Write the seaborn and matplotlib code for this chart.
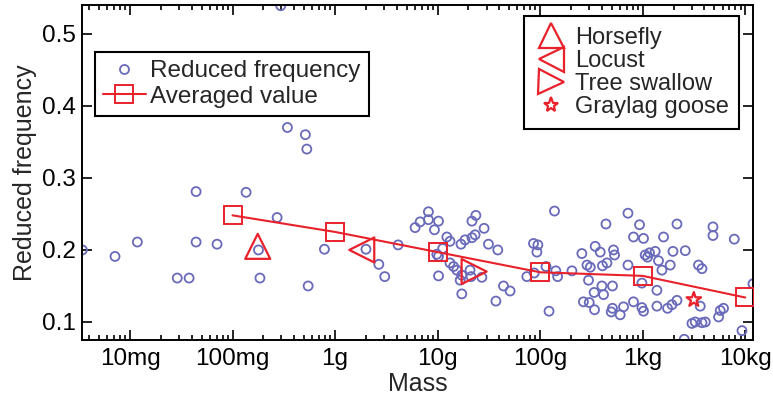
import numpy as np
import pandas as pd
import matplotlib
matplotlib.use("Agg")
import matplotlib.pyplot as plt
import seaborn as sns
from matplotlib.ticker import LogLocator, FixedLocator, FixedFormatter, NullFormatter, NullLocator
from matplotlib.lines import Line2D

# ---- data (mass in grams, reduced frequency) ----
mass_g = [0.00343, 0.00714, 0.0118, 0.0289, 0.0377, 0.0441, 0.0441, 0.0706, 0.1355, 0.179,
          0.185, 0.272, 0.295, 0.343, 0.513, 0.530, 0.546, 0.787, 2.00, 2.67,
          3.05, 4.12, 6.03, 6.75, 8.13, 8.13, 10.2, 9.31, 12.3, 13.2,
          11.2, 9.82, 10.2, 10.2, 13.2, 14.3, 15.4, 17.2, 16.6, 17.2,
          16.9, 18.5, 21.6, 23.2, 21.6, 23.6, 28.4, 31.3, 38.6, 20.7,
          21.2, 27.0, 43.9, 50.9, 37.0, 74.1, 86.1, 95.0, 92.9, 87.4,
          114, 142, 148, 138, 122, 204, 255, 286, 308, 296,
          344, 385, 405, 448, 519, 531, 438, 400, 336, 415,
          507, 264, 301, 339, 507, 493, 603, 650, 718, 813,
          718, 813, 931, 1018, 2158, 1596, 4842, 4842, 7816, 1057,
          1165, 1324, 1972, 2600, 1114, 1426, 1854, 1539, 3500, 3784,
          982, 1376, 982, 1018, 1376, 1746, 1927, 2158, 3639, 3020,
          3251, 3784, 4074, 2541, 5495, 5702, 6138, 9290, 11890]
freq = [0.200, 0.191, 0.211, 0.161, 0.161, 0.281, 0.211, 0.208, 0.280, 0.200,
        0.161, 0.245, 0.539, 0.370, 0.360, 0.340, 0.150, 0.201, 0.201, 0.180,
        0.163, 0.207, 0.231, 0.239, 0.253, 0.242, 0.240, 0.228, 0.218, 0.212,
        0.202, 0.194, 0.191, 0.164, 0.182, 0.177, 0.172, 0.165, 0.158, 0.139,
        0.208, 0.214, 0.217, 0.221, 0.240, 0.248, 0.230, 0.208, 0.200, 0.172,
        0.163, 0.162, 0.150, 0.143, 0.129, 0.163, 0.209, 0.207, 0.197, 0.168,
        0.177, 0.171, 0.163, 0.254, 0.115, 0.171, 0.195, 0.179, 0.176, 0.158,
        0.205, 0.197, 0.178, 0.182, 0.200, 0.193, 0.236, 0.150, 0.141, 0.138,
        0.150, 0.128, 0.127, 0.117, 0.119, 0.114, 0.110, 0.121, 0.251, 0.218,
        0.179, 0.128, 0.235, 0.216, 0.236, 0.218, 0.232, 0.220, 0.215, 0.193,
        0.196, 0.198, 0.198, 0.199, 0.190, 0.185, 0.179, 0.172, 0.179, 0.174,
        0.154, 0.144, 0.120, 0.115, 0.122, 0.119, 0.124, 0.130, 0.122, 0.098,
        0.100, 0.099, 0.100, 0.076, 0.107, 0.116, 0.119, 0.088, 0.153]

avg_mass_g = [0.1, 1, 10, 100, 1000, 10000]
avg_freq = [0.248, 0.225, 0.197, 0.169, 0.164, 0.134]

species = ["Horsefly", "Locust", "Tree swallow", "Graylag goose"]
species_mass_g = [0.176, 1.82, 22.7, 3150]
species_freq = [0.205, 0.200, 0.170, 0.131]
species_markers = ["^", "<", ">", "*"]

xtick_values = [0.01, 0.1, 1, 10, 100, 1000, 10000]
xtick_labels = ["10mg", "100mg", "1g", "10g", "100g", "1kg", "10kg"]
ytick_values = [0.1, 0.2, 0.3, 0.4, 0.5]
ytick_labels = ["0.1", "0.2", "0.3", "0.4", "0.5"]

BLUE = "#6a6aba"
RED = "#e8212b"

sns.set_theme(style="ticks")
plt.rcParams['font.family'] = ['Liberation Sans', 'DejaVu Sans']

W, H = 773, 397
fig = plt.figure(figsize=(W / 100, H / 100), dpi=100)
ax = fig.add_axes([81.7 / W, 57 / H, (753 - 81.7) / W, (340 - 5) / H])
ax.set_xscale("log")

df = pd.DataFrame({"mass": mass_g, "freq": freq})
sns.scatterplot(data=df, x="mass", y="freq", ax=ax, marker="o", s=42,
                facecolors="none", edgecolor=BLUE, linewidth=1.3, zorder=2,
                legend=False, clip_on=True)

avg_df = pd.DataFrame({"mass": avg_mass_g, "freq": avg_freq})
sns.lineplot(data=avg_df, x="mass", y="freq", ax=ax, color=RED, linewidth=1.5,
             marker="s", markersize=13, markerfacecolor="none",
             markeredgecolor=RED, markeredgewidth=1.4, zorder=3, legend=False)

spec_sizes = {"^": 18, "<": 18, ">": 18, "*": 11}
for name, m, f, mk in zip(species, species_mass_g, species_freq, species_markers):
    sns.scatterplot(x=[m], y=[f], ax=ax, marker=mk, s=spec_sizes[mk] ** 2,
                    facecolors="none", edgecolor=RED, linewidth=1.6, zorder=4,
                    legend=False)

ax.set_xlim(0.00338, 11900)
ax.set_ylim(0.075, 0.540)

ax.xaxis.set_major_locator(FixedLocator(xtick_values))
ax.xaxis.set_major_formatter(FixedFormatter(xtick_labels))
ax.xaxis.set_minor_locator(LogLocator(base=10, subs=np.arange(2, 10), numticks=20))
ax.xaxis.set_minor_formatter(NullFormatter())
ax.yaxis.set_major_locator(FixedLocator(ytick_values))
ax.yaxis.set_major_formatter(FixedFormatter(ytick_labels))
ax.yaxis.set_minor_locator(NullLocator())

ax.tick_params(which="both", direction="in", top=True, right=True, colors="black",
               width=1.2, labelsize=17.5)
ax.tick_params(which="major", length=7, pad=4)
ax.tick_params(which="minor", length=3.5)
ax.tick_params(axis="x", which="major", pad=6)
for sp in ax.spines.values():
    sp.set_linewidth(1.4)
    sp.set_color("black")

ax.set_xlabel("Mass", fontsize=18, labelpad=1)
ax.set_ylabel("Reduced frequency", fontsize=18, labelpad=4)

# legend 1
h1 = [Line2D([], [], ls="none", marker="o", ms=6.5, mfc="none", mec=BLUE, mew=1.3),
      Line2D([], [], color=RED, lw=1.5, marker="s", ms=13, mfc="none", mec=RED, mew=1.4)]
leg1 = ax.legend(h1, ["Reduced frequency", "Averaged value"], loc="upper left",
                 bbox_to_anchor=(95 / W, 1 - 52 / H), bbox_transform=fig.transFigure,
                 frameon=True, fancybox=False, edgecolor="black", framealpha=1,
                 fontsize=17.5, handlelength=1.75, handletextpad=0.2, borderpad=0.33,
                 labelspacing=0.16, borderaxespad=0)
leg1.get_frame().set_linewidth(1.5)
ax.add_artist(leg1)

# legend 2
h2 = [Line2D([], [], ls="none", marker=mk, ms=spec_sizes[mk], mfc="none", mec=RED, mew=1.6)
      for mk in species_markers]
leg2 = ax.legend(h2, species, loc="upper left",
                 bbox_to_anchor=(524 / W, 1 - 16 / H), bbox_transform=fig.transFigure,
                 frameon=True, fancybox=False, edgecolor="black", framealpha=1,
                 fontsize=17, handlelength=1.35, handletextpad=0.35, borderpad=0.45,
                 labelspacing=0.05, borderaxespad=0)
leg2.get_frame().set_linewidth(1.5)

fig.savefig("out.png", dpi=100)
